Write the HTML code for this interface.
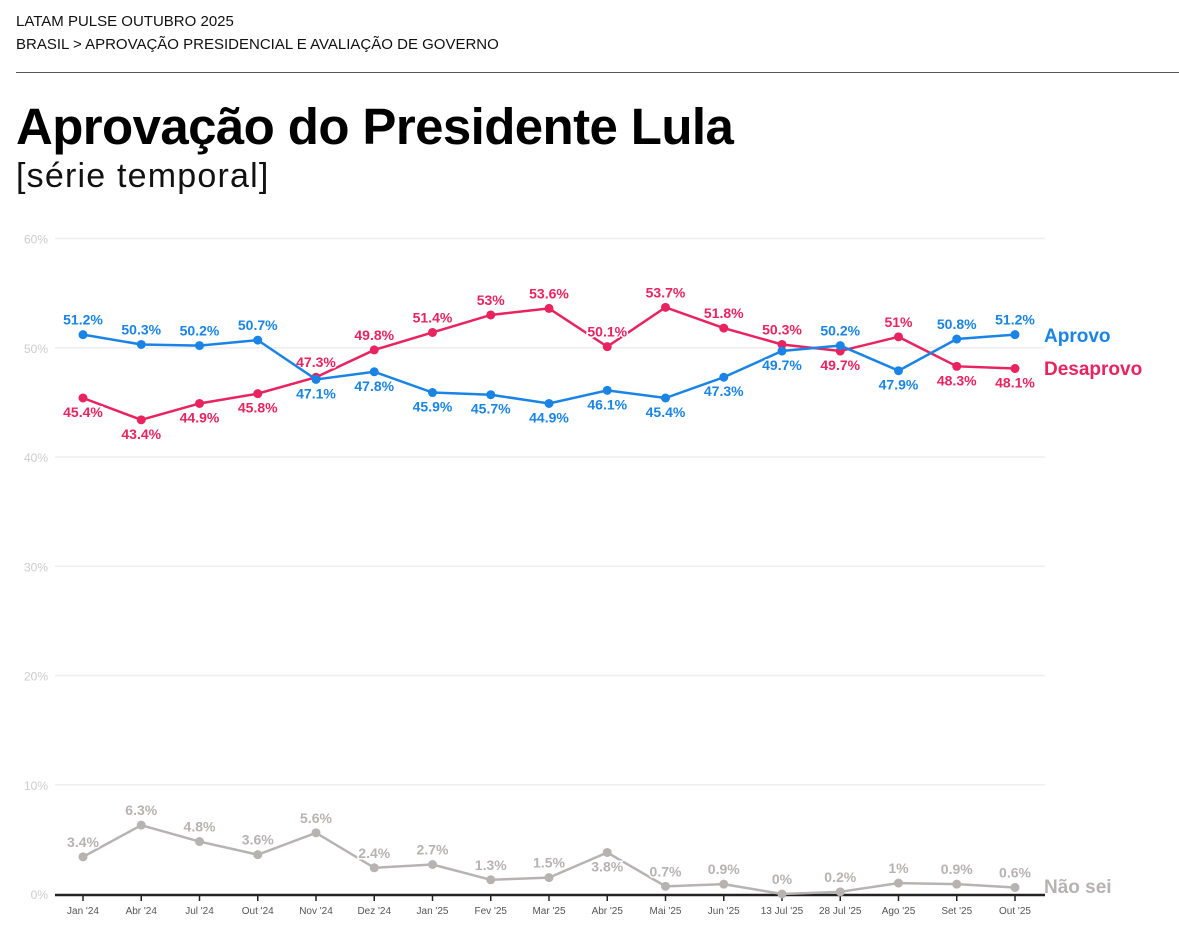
<!DOCTYPE html>
<html><head><meta charset="utf-8"><style>
body{margin:0;width:1179px;height:943px;background:#fff;font-family:"Liberation Sans",sans-serif;overflow:hidden;position:relative}
.t{position:absolute;left:16px;color:#111}
</style></head><body>
<div class="t" style="top:13px;font-size:15px">LATAM PULSE OUTUBRO 2025</div>
<div class="t" style="top:36px;font-size:15px">BRASIL &gt; APROVAÇÃO PRESIDENCIAL E AVALIAÇÃO DE GOVERNO</div>
<div style="position:absolute;left:16px;top:72px;width:1163px;height:1px;background:#555"></div>
<div class="t" style="top:97px;font-size:51px;font-weight:bold;letter-spacing:-0.6px;color:#000">Aprovação do Presidente Lula</div>
<div class="t" style="top:157px;font-size:34px;letter-spacing:1.2px;color:#111">[série temporal]</div>
<svg id="chart" width="1179" height="943" style="position:absolute;left:0;top:0"></svg>
<script>
const categories=["Jan '24","Abr '24","Jul '24","Out '24","Nov '24","Dez '24","Jan '25","Fev '25","Mar '25","Abr '25","Mai '25","Jun '25","13 Jul '25","28 Jul '25","Ago '25","Set '25","Out '25"];
const aprovo=[51.2,50.3,50.2,50.7,47.1,47.8,45.9,45.7,44.9,46.1,45.4,47.3,49.7,50.2,47.9,50.8,51.2];
const desaprovo=[45.4,43.4,44.9,45.8,47.3,49.8,51.4,53,53.6,50.1,53.7,51.8,50.3,49.7,51,48.3,48.1];
const naosei=[3.4,6.3,4.8,3.6,5.6,2.4,2.7,1.3,1.5,3.8,0.7,0.9,0,0.2,1,0.9,0.6];
const yTicks=[0,10,20,30,40,50,60];
const aprovoPos=[1,1,1,1,0,0,0,0,0,0,0,0,0,1,0,1,1];
const desaprovoPos=[0,0,0,0,1,1,1,1,1,1,1,1,1,0,1,0,0];
const naoseiPos=[1,1,1,1,1,1,1,1,1,0,1,1,1,1,1,1,1];
const svg=document.getElementById('chart');
const NS='http://www.w3.org/2000/svg';
const x=i=>83+i*(1015-83)/(categories.length-1);
const y=v=>894-v*10.925;
function mk(tag,attrs,parent){const e=document.createElementNS(NS,tag);for(const k in attrs)e.setAttribute(k,attrs[k]);(parent||svg).appendChild(e);return e;}
yTicks.forEach(t=>{
  if(t>0){const g=mk('line',{x1:55,x2:1045,y1:y(t),y2:y(t),stroke:'#eee','stroke-width':1.5});
  
  }
  const l=mk('text',{x:48,y:y(t)+5,'text-anchor':'end','font-size':12,fill:'#ccc'});
  l.textContent=t+'%';
  
  
});
const ax=mk('line',{x1:55,x2:1045,y1:895,y2:895,stroke:'#222','stroke-width':2.5});


categories.forEach((c,i)=>{
  mk('line',{x1:x(i),x2:x(i),y1:895,y2:901,stroke:'#222','stroke-width':1.5});
  const l=mk('text',{x:x(i),y:914,'text-anchor':'middle','font-size':10,fill:'#555'});
  l.textContent=c;
  
  
});
function series(vals,pos,color,name,label,ly){
  const p=mk('polyline',{points:vals.map((v,i)=>x(i)+','+y(v)).join(' '),fill:'none',stroke:color,'stroke-width':2.5});
  
  
  vals.forEach((v,i)=>{
    const c=mk('circle',{cx:x(i),cy:y(v),r:4.5,fill:color});
    
    
    const t=mk('text',{x:x(i),y:pos[i]?y(v)-10:y(v)+19,'text-anchor':'middle','font-size':14,'font-weight':'bold',fill:color,stroke:'#fff','stroke-width':3,'paint-order':'stroke'});
    t.textContent=v+'%';
    
    
  });
  const lg=mk('text',{x:1044,y:ly,'font-size':19,'font-weight':'bold',fill:color});
  lg.textContent=label;
  
  
}
series(naosei,naoseiPos,'#b8b3b3','nao-sei','Não sei',893);
series(desaprovo,desaprovoPos,'#e8235f','desaprovo','Desaprovo',375);
series(aprovo,aprovoPos,'#1a84e6','aprovo','Aprovo',342);
</script>
</body></html>
